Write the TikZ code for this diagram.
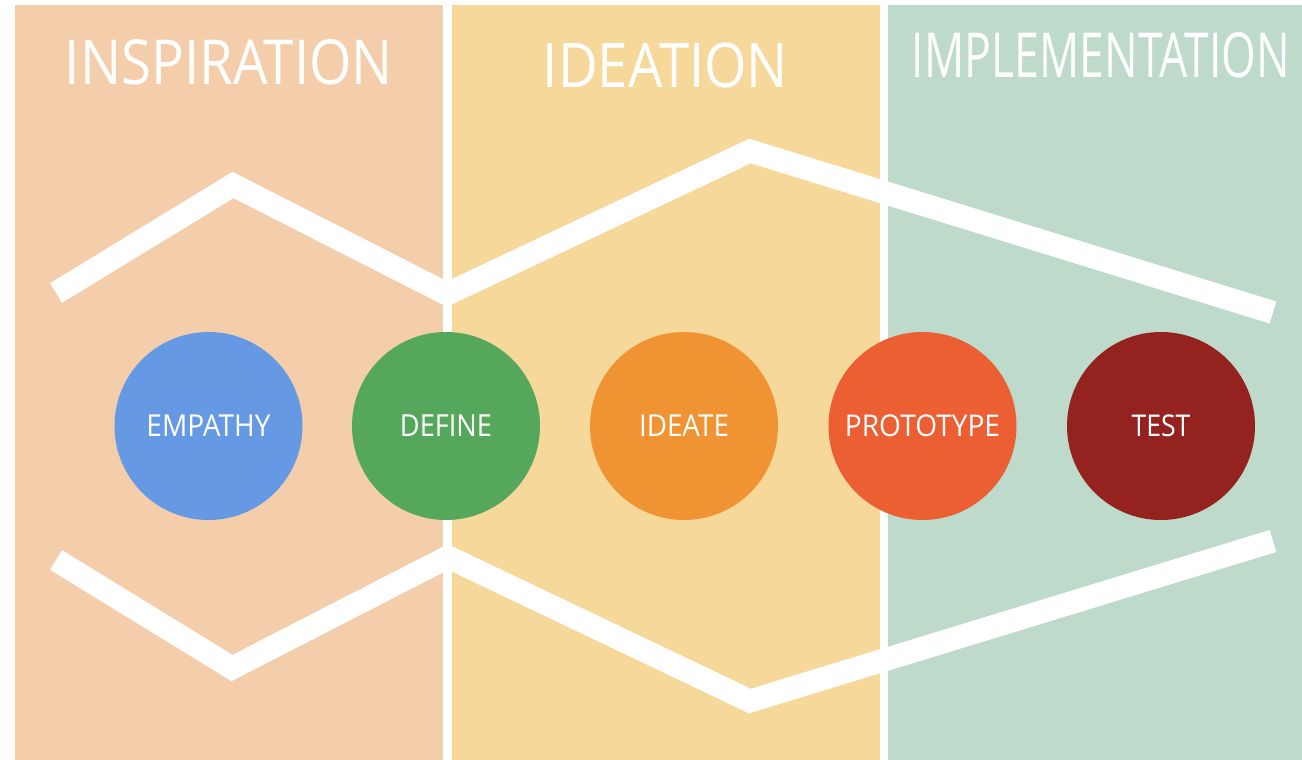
\documentclass[tikz,border=0pt]{standalone}
\usepackage{fontspec}
\usepackage{graphicx}
\setmainfont{Open Sans}
\definecolor{peach}{HTML}{F4CDAA}
\definecolor{sand}{HTML}{F7D89B}
\definecolor{mint}{HTML}{BDDACB}
\definecolor{cblue}{HTML}{6699E3}
\definecolor{cgreen}{HTML}{55A85B}
\definecolor{corange}{HTML}{F09433}
\definecolor{cred}{HTML}{EB5F33}
\definecolor{cdark}{HTML}{94221F}
\tikzset{
  panel/.style={fill=#1, draw=none},
  zigzag/.style={draw=white, line width=23pt, line join=miter, line cap=butt},
  phase/.style={circle, minimum size=188pt, inner sep=0pt, draw=none, fill=#1, text=white},
  title/.style={inner sep=0pt, text=white},
}
\newcommand{\fitbox}[3]{\resizebox{#1pt}{#2pt}{#3}}
\begin{document}
\begin{tikzpicture}[x=1pt,y=-1pt]
\useasboundingbox (0,0) rectangle (1302,760);
\fill[white] (0,0) rectangle (1302,760);
% panels
\path[panel=peach] (15,5) rectangle (443,760);
\path[panel=sand] (452,5) rectangle (880,760);
\path[panel=mint] (888,5) rectangle (1302,760);
% titles
\node[title] (tinsp) at (229,62.5) {\fitbox{328}{45}{INSPIRATION}};
\node[title] (tidea) at (665.5,65) {\fitbox{245}{44.6}{IDEATION}};
\node[title] (timpl) at (1101,55.5) {\fitbox{378}{45}{IMPLEMENTATION}};
% zigzag lines
\draw[zigzag] (56,293) -- (233,185) -- (447,294) -- (750,151) -- (1273,312.5);
\draw[zigzag] (56,560) -- (232,668) -- (448,557) -- (750,701) -- (1273,541);
% phases
\node[phase=cblue] (empathy) at (208.5,426) {\fitbox{124}{21.7}{EMPATHY}};
\node[phase=cgreen] (define) at (446,426) {\fitbox{92}{21.7}{DEFINE}};
\node[phase=corange] (ideate) at (684,426) {\fitbox{90}{21.7}{IDEATE}};
\node[phase=cred] (prototype) at (922.5,426) {\fitbox{155}{21.7}{PROTOTYPE}};
\node[phase=cdark] (test) at (1161,426) {\fitbox{59}{21.7}{TEST}};
\end{tikzpicture}
\end{document}
